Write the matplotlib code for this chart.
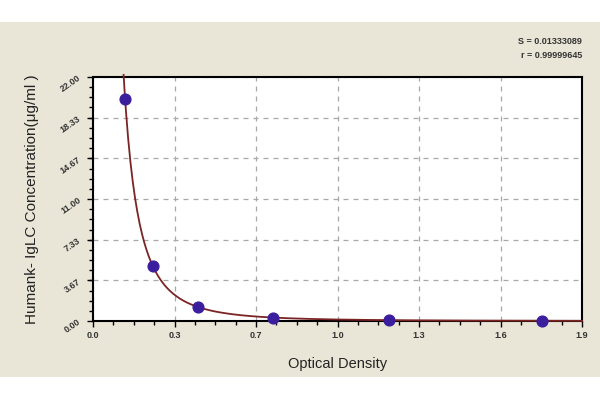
import matplotlib.pyplot as plt
import numpy as np
from matplotlib.patches import Rectangle

# standard points (OD vs concentration)
od = [0.128, 0.238, 0.419, 0.717, 1.182, 1.790]
conc = [20.0, 5.0, 1.25, 0.3125, 0.078, 0.0]

x_ticks = [0.0, 0.325, 0.65, 0.975, 1.3, 1.625, 1.95]
x_labels = ['0.0', '0.3', '0.7', '1.0', '1.3', '1.6', '1.9']
y_ticks = [0.0, 3.667, 7.333, 11.0, 14.667, 18.333, 22.0]
y_labels = ['0.00', '3.67', '7.33', '11.00', '14.67', '18.33', '22.00']

plt.rcParams['font.family'] = ['Liberation Sans', 'DejaVu Sans']

fig = plt.figure(figsize=(6, 4), dpi=100, facecolor='white')
# beige panel behind the chart
fig.patches.append(Rectangle((0, 0.0575), 1, 0.8875, transform=fig.transFigure,
                             facecolor='#EAE6D7', edgecolor='none', zorder=-10))

ax = fig.add_axes([0.155, 0.1975, 0.815, 0.61])
ax.set_facecolor('white')

# fitted standard curve (log-log quadratic fit of the non-zero points)
lx = np.log([v for v, c in zip(od, conc) if c > 0])
ly = np.log([c for c in conc if c > 0])
coef = np.polyfit(lx, ly, 2)
xs = np.linspace(0.122, 1.95, 400)
ys = np.exp(np.polyval(coef, np.log(xs)))
ax.plot(xs, ys, color='#7A2424', lw=1.3, clip_on=False, zorder=3)

ax.scatter(od, conc, s=60, color='#3B1E9E', zorder=4, clip_on=False)

ax.set_xlim(0, 1.95)
ax.set_ylim(0, 22)
ax.set_xticks(x_ticks)
ax.set_xticklabels(x_labels, fontsize=6.5, color='#333333', fontweight='bold')
ax.set_yticks(y_ticks)
ax.set_yticklabels(y_labels, fontsize=6.5, color='#333333', rotation=35, fontweight='bold')
ax.set_xticks(np.arange(0, 1.95, 0.325 / 4), minor=True)
ax.set_yticks(np.arange(0, 22, 22 / 24), minor=True)
ax.tick_params(which='both', direction='out', length=4, width=1)
ax.tick_params(which='minor', length=3)
ax.grid(True, which='major', linestyle=(0, (4, 4)), color='#A8A8A8', lw=0.9)

for s in ax.spines.values():
    s.set_linewidth(1.5)

ax.set_xlabel('Optical Density', fontsize=10.5, color='#222222', labelpad=12)
ax.set_ylabel('Humank- IgLC Concentration(μg/ml )', fontsize=11, color='#222222', labelpad=14)

fig.text(0.97, 0.897, 'S = 0.01333089', ha='right', va='center', fontsize=6.5,
         color='#333333', fontweight='bold')
fig.text(0.97, 0.86, 'r = 0.99999645', ha='right', va='center', fontsize=6.5,
         color='#333333', fontweight='bold')

fig.savefig('out.png', dpi=100, facecolor=fig.get_facecolor())
